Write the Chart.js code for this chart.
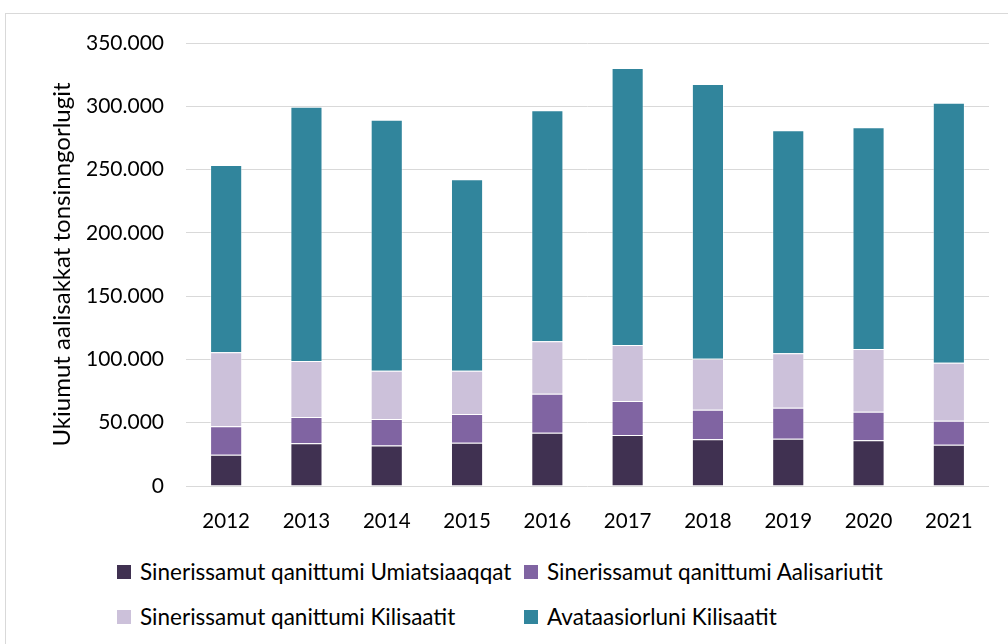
<!DOCTYPE html>
<html>
<head>
<meta charset="utf-8">
<script src="https://cdn.jsdelivr.net/npm/chart.js@4/dist/chart.umd.min.js"></script>
<style>
  body { margin: 0; width: 1008px; height: 644px; overflow: hidden; background: #fff; font-family: Lato, sans-serif; }
  #frame { position: absolute; left: 5px; top: 13px; width: 1020px; height: 650px; border: 1px solid #d9d9d9; }
  #wrap { position: absolute; left: 0; top: 0; width: 1008px; height: 540px; }
  #legend { position: absolute; left: 117px; top: 559px; display: grid; grid-template-columns: 407px auto; row-gap: 20px; font-size: 22.5px; color: #000; }
  .item { display: flex; align-items: center; height: 25px; }
  .box { width: 14px; height: 14px; margin-right: 9px; }
</style>
</head>
<body>
<div id="frame"></div>
<div id="wrap"><canvas id="barChart"></canvas></div>
<div id="legend"></div>
<script>
const years = ['2012', '2013', '2014', '2015', '2016', '2017', '2018', '2019', '2020', '2021'];

const seriesNames = [
  'Sinerissamut qanittumi Umiatsiaaqqat',
  'Sinerissamut qanittumi Aalisariutit',
  'Sinerissamut qanittumi Kilisaatit',
  'Avataasiorluni Kilisaatit'
];

const umiatsiaaqqat = [24700, 33700, 31900, 34200, 42100, 40300, 36900, 37400, 36100, 32600];
const aalisariutit = [22500, 20800, 21000, 22700, 30800, 26900, 23400, 24500, 22600, 19000];
const kilisaatitSin = [58400, 44300, 38200, 34200, 41400, 44200, 40300, 42900, 49500, 45800];
const kilisaatitAva = [148000, 200900, 198300, 151200, 182500, 218800, 217000, 176200, 175200, 205400];

const colors = ['#403151', '#8064a2', '#ccc1da', '#31859c'];
const values = [umiatsiaaqqat, aalisariutit, kilisaatitSin, kilisaatitAva];

const barData = {
  labels: years,
  datasets: seriesNames.map((name, i) => ({
    label: name,
    data: values[i],
    backgroundColor: colors[i],
    borderColor: 'rgba(255,255,255,0.45)',
    borderWidth: 1,
    categoryPercentage: 0.8,
    barPercentage: 0.5
  }))
};

const barConfig = {
  type: 'bar',
  data: barData,
  options: {
    responsive: true,
    maintainAspectRatio: false,
    animation: false,
    layout: { padding: { left: 44, right: 19, top: 43, bottom: 0 } },
    plugins: {
      legend: { display: false },
      tooltip: { enabled: false }
    },
    scales: {
      x: {
        stacked: true,
        grid: { display: false, drawTicks: false },
        border: { display: false },
        ticks: { color: '#000', font: { family: 'Lato, sans-serif', size: 20.5 }, padding: 23 },
        afterFit: (scale) => { scale.height = 54; }
      },
      y: {
        stacked: true,
        min: 0,
        max: 350000,
        grid: { color: '#d9d9d9', lineWidth: 1, drawTicks: false },
        border: { display: false },
        ticks: {
          stepSize: 50000,
          color: '#000',
          font: { family: 'Lato, sans-serif', size: 21 },
          padding: 22,
          callback: (v) => v === 0 ? '0' : String(v).replace(/\B(?=(\d{3})+(?!\d))/g, '.')
        },
        title: {
          display: true,
          text: 'Ukiumut aalisakkat tonsinngorlugit',
          color: '#000',
          font: { family: 'Lato, sans-serif', size: 24 }
        },
        afterFit: (scale) => { scale.width = 142; }
      }
    }
  }
};

const myBarChart = new Chart(document.getElementById('barChart'), barConfig);

// legend laid out in two columns like the original
const legendEl = document.getElementById('legend');
seriesNames.forEach((name, i) => {
  const item = document.createElement('div');
  item.className = 'item';
  const box = document.createElement('span');
  box.className = 'box';
  box.style.background = colors[i];
  const txt = document.createElement('span');
  txt.textContent = name;
  item.appendChild(box);
  item.appendChild(txt);
  legendEl.appendChild(item);
});
</script>
</body>
</html>
